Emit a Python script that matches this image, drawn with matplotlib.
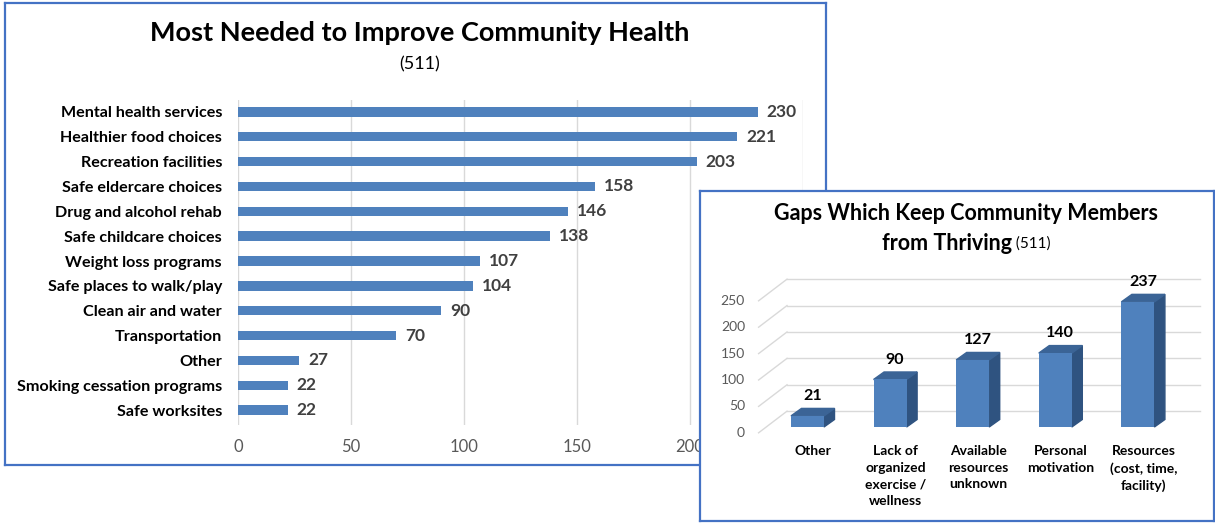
import matplotlib.pyplot as plt
from matplotlib.patches import Polygon

plt.rcParams['font.family'] = ['Lato', 'DejaVu Sans']

# left chart data
needs = ['Mental health services', 'Healthier food choices', 'Recreation facilities',
         'Safe eldercare choices', 'Drug and alcohol rehab', 'Safe childcare choices',
         'Weight loss programs', 'Safe places to walk/play', 'Clean air and water',
         'Transportation', 'Other', 'Smoking cessation programs', 'Safe worksites']
need_counts = [230, 221, 203, 158, 146, 138, 107, 104, 90, 70, 27, 22, 22]
need_ticks = [0, 50, 100, 150, 200, 250]

# right chart data
gaps = ['Other', 'Lack of\norganized\nexercise /\nwellness', 'Available\nresources\nunknown',
        'Personal\nmotivation', 'Resources\n(cost, time,\nfacility)']
gap_counts = [21, 90, 127, 140, 237]
gap_ticks = [0, 50, 100, 150, 200, 250]

W, H = 1215, 523
BLUE = '#4F81BD'
BORDER = '#4472C4'
GRID = '#D9D9D9'


def box(x0, y0, x1, y1):
    # pixel box -> figure fraction
    return [x0 / W, 1 - y1 / H, (x1 - x0) / W, (y1 - y0) / H]


fig = plt.figure(figsize=(W / 100, H / 100), dpi=100)

# ---- left panel frame
bg = fig.add_axes(box(5, 3, 826, 465), zorder=0)
bg.set_xticks([])
bg.set_yticks([])
for s in bg.spines.values():
    s.set_color(BORDER)
    s.set_linewidth(1.6)
bg.text(0.5055, 0.935, 'Most Needed to Improve Community Health', transform=bg.transAxes,
        ha='center', va='center', fontsize=19.5, fontweight='bold', color='black')
bg.text(0.5055, 0.868, '(511)', transform=bg.transAxes, ha='center', va='center',
        fontsize=13, color='black')

# ---- left bars
ax = fig.add_axes(box(238, 100, 803, 425), zorder=1)
ax.set_facecolor('none')
ypos = list(range(len(needs)))
ax.barh(ypos, need_counts, height=0.38, color=BLUE, zorder=3)
ax.set_xlim(0, 250)
ax.set_ylim(len(needs) - 0.4, -0.48)
ax.set_xticks(need_ticks)
ax.set_yticks(ypos)
ax.set_yticklabels(needs, fontsize=11.6, fontweight='bold')
ax.tick_params(axis='y', length=0, pad=11.5)
ax.tick_params(axis='x', length=0, pad=10, labelsize=12, labelcolor='#595959')
ax.get_xticklabels()[-1].set_visible(False)  # sits behind the right panel anyway
ax.grid(axis='x', color=GRID, linewidth=1)
ax.set_axisbelow(True)
for s in ax.spines.values():
    s.set_visible(False)
for y, v in zip(ypos, need_counts):
    ax.text(v + 4, y, str(v), ha='left', va='center', fontsize=12.5,
            fontweight='bold', color='#404040')

# ---- right panel (3D-looking column chart)
axr = fig.add_axes(box(700, 191, 1214, 521), zorder=5)
axr.set_facecolor('white')
axr.set_xticks([])
axr.set_yticks([])
for s in axr.spines.values():
    s.set_color(BORDER)
    s.set_linewidth(1.6)

px_x = 82.6      # pixels per category
px_y = 0.528     # pixels per unit
axr.set_xlim(-107.5 / px_x, 406.5 / px_x)
axr.set_ylim(-94 / px_y, 236 / px_y)

w = 0.4
dx, dy = 0.127, 14.2            # bar depth
back_x0, back_x1, back_dy = -0.248, 4.752, 30
front_x, front_dy = -0.592, -11

for t in gap_ticks:
    axr.plot([back_x0, back_x1], [t + back_dy, t + back_dy], color=GRID, lw=1, zorder=1)
    axr.plot([front_x, back_x0], [t + front_dy, t + back_dy], color=GRID, lw=1, zorder=1)
    axr.text(front_x - 0.165, t + front_dy, str(t), ha='right', va='center',
             fontsize=10, color='#595959')

xs = list(range(len(gaps)))
axr.bar(xs, gap_counts, width=w, color=BLUE, zorder=4)
for x, v in zip(xs, gap_counts):
    r = x + w / 2
    l = x - w / 2
    axr.add_patch(Polygon([(r, 0), (r + dx, dy), (r + dx, v + dy), (r, v)],
                          closed=True, color='#2F5380', zorder=3))
    axr.add_patch(Polygon([(l, v), (r, v), (r + dx, v + dy), (l + dx, v + dy)],
                          closed=True, color='#3B6496', zorder=3))
    axr.text(x + 0.06, v + dy + 23, str(v), ha='center', va='center',
             fontsize=11.5, fontweight='bold', color='black')
    axr.text(x + 0.07, -35, gaps[x], ha='center', va='top', fontsize=10,
             fontweight='bold', color='black', linespacing=1.45)

axr.text(0.5175, 0.932, 'Gaps Which Keep Community Members', transform=axr.transAxes,
         ha='center', va='center', fontsize=15.5, fontweight='bold')
t1 = axr.text(0, 0.842, 'from Thriving', transform=axr.transAxes,
              ha='left', va='center', fontsize=15.5, fontweight='bold')
t2 = axr.text(0, 0.842, ' (511)', transform=axr.transAxes,
              ha='left', va='center', fontsize=11)
r = fig.canvas.get_renderer()
w1 = t1.get_window_extent(r).width / 514
w2 = t2.get_window_extent(r).width / 514
x0 = 0.5175 - (w1 + w2) / 2
t1.set_x(x0)
t2.set_x(x0 + w1)

fig.savefig('out.png', dpi=100)
